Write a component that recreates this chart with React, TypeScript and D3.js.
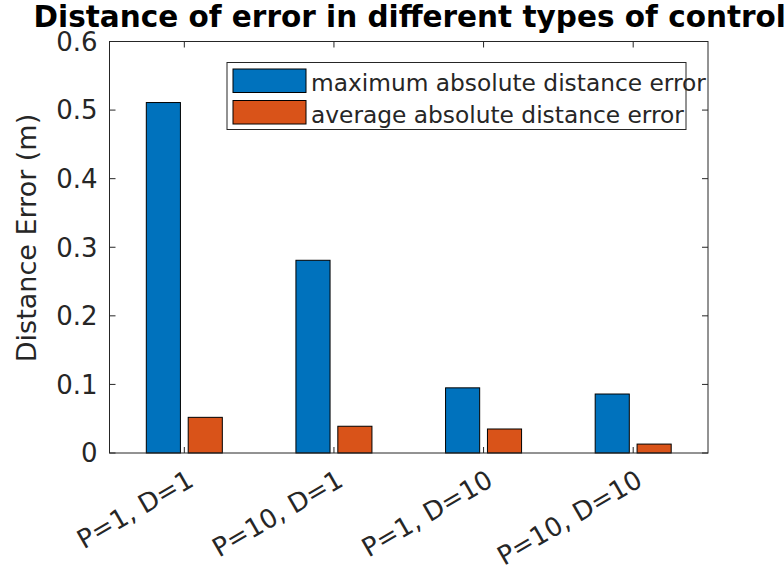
import React from "react";
import * as d3 from "d3";

const categories = ["P=1, D=1", "P=10, D=1", "P=1, D=10", "P=10, D=10"];
const maxError = [0.511, 0.281, 0.095, 0.086];
const avgError = [0.052, 0.039, 0.035, 0.013];
const seriesNames = ["maximum absolute distance error", "average absolute distance error"];
const seriesColors = ["#0072BD", "#D95319"];
const yTicks = [0, 0.1, 0.2, 0.3, 0.4, 0.5, 0.6];
const titleText = "Distance of error in different types of control";
const yLabel = "Distance Error (m)";

export default function App() {
  const W = 784, H = 571;
  const left = 109.5, right = 708, top = 41.5, bottom = 453;
  const x = d3.scaleLinear().domain([0.5, 4.5]).range([left, right]);
  const y = d3.scaleLinear().domain([0, 0.6]).range([bottom, top]);
  const series = [maxError, avgError];
  const offsets = [-0.14, 0.14];
  const bw = 0.228;
  const axisColor = "#262626";
  const font = "DejaVu Sans, sans-serif";
  const tickLen = 6;
  return (
    <svg width={W} height={H} style={{ position: "absolute", left: 0, top: 0, background: "#fff" }} fontFamily={font}>
      <rect x={0} y={0} width={W} height={H} fill="#fff" />
      {series.map((vals, si) =>
        vals.map((v, i) => {
          const cx = i + 1 + offsets[si];
          const x0 = x(cx - bw / 2), x1 = x(cx + bw / 2);
          return (
            <rect key={`${si}-${i}`} x={x0} y={y(v)} width={x1 - x0} height={y(0) - y(v)}
              fill={seriesColors[si]} stroke="#000" strokeWidth={1} />
          );
        })
      )}
      <rect x={left} y={top} width={right - left} height={bottom - top} fill="none" stroke={axisColor} strokeWidth={1} />
      {yTicks.map((t) => (
        <g key={t}>
          <line x1={left} x2={left + tickLen} y1={y(t)} y2={y(t)} stroke={axisColor} />
          <line x1={right} x2={right - tickLen} y1={y(t)} y2={y(t)} stroke={axisColor} />
          <text x={left - 12} y={y(t)} dy="0.36em" textAnchor="end" fontSize={26} fill={axisColor}>{String(t)}</text>
        </g>
      ))}
      {categories.map((c, i) => {
        const px = x(i + 1);
        return (
          <g key={c}>
            <line x1={px} x2={px} y1={bottom} y2={bottom - tickLen} stroke={axisColor} />
            <line x1={px} x2={px} y1={top} y2={top + tickLen} stroke={axisColor} />
            <text transform={`translate(${px + 11},${485}) rotate(-30)`} textAnchor="end" fontSize={26} fill={axisColor}>{c}</text>
          </g>
        );
      })}
      <text transform={`translate(${36},${238}) rotate(-90)`} textAnchor="middle" fontSize={27} fill={axisColor}>{yLabel}</text>
      <text x={(left + right) / 2 + 1} y={27} textAnchor="middle" fontSize={29.5} fontWeight="bold" fill="#000">{titleText}</text>
      <g>
        <rect x={227} y={62.5} width={459} height={67} fill="#fff" stroke="none" />
        {seriesNames.map((n, i) => (
          <g key={n}>
            <rect x={233} y={69 + i * 31.5} width={73} height={23.5} fill={seriesColors[i]} stroke="#000" strokeWidth={1} />
            <text x={311} y={91 + i * 31.5} fontSize={23.3} fill={axisColor}>{n}</text>
          </g>
        ))}
        <rect x={227} y={62.5} width={459} height={67} fill="none" stroke={axisColor} strokeWidth={1} />
      </g>
    </svg>
  );
}
